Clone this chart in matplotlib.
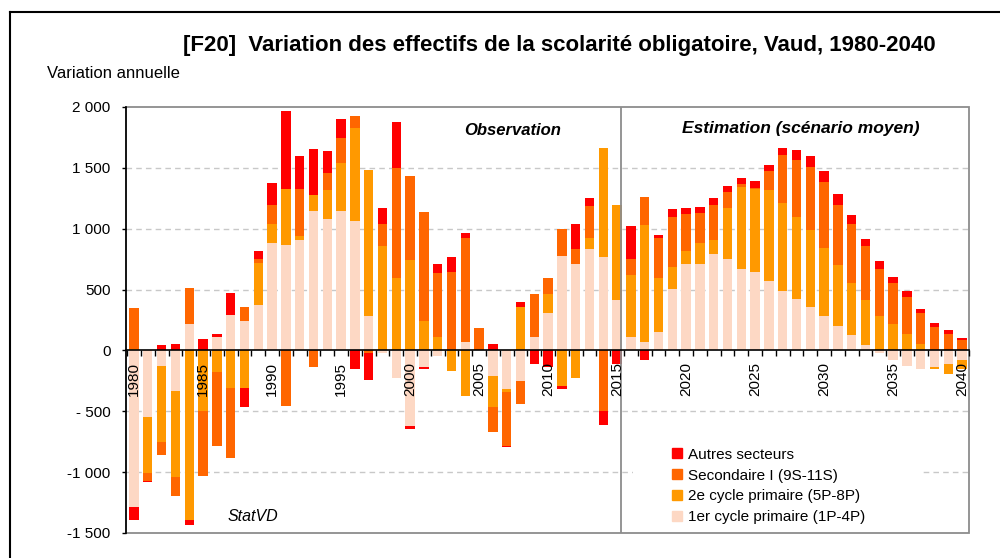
import numpy as np
import matplotlib
matplotlib.use("Agg")
import matplotlib.pyplot as plt
from matplotlib.lines import Line2D
from matplotlib.patches import Rectangle

plt.rcParams['font.family'] = ['Liberation Sans', 'DejaVu Sans']

years = list(range(1980, 2041))

cycle1 = [-1290, -544, -126, -335, 214, 0, 110, 294, 242, 371,
          885, 865, 906, 1146, 1080, 1146, 1063, 280, -22, -225,
          -624, -137, -47, 0, 71, 0, -206, -321, -255, 110,
          308, 777, 711, 830, 764, 412, 110, 71, 148, 503,
          711, 711, 791, 750, 670, 646, 569, 486, 423, 357,
          280, 200, 124, 44, -22, -82, -126, -151, -137, -115,
          -77]
cycle2 = [10, -459, -629, -709, -1395, -494, -179, -310, -310, 346,
          153, 462, 33, 129, 239, 395, 767, 1203, 857, 593,
          742, 239, 110, -165, -371, 0, -261, -17, 357, 0,
          153, -294, -225, 93, 903, 783, 508, 959, 445, 181,
          105, 171, 115, 420, 673, 678, 750, 723, 673, 632,
          563, 500, 434, 368, 280, 214, 137, 55, -14, -77,
          -74]
secondaire = [335, -68, -102, -154, 300, -536, -604, -575, 115, 33,
              157, -453, 388, -137, 140, 206, 98, -22, 181, 907,
              689, 901, 525, 648, 855, 187, -206, -445, -184, 351,
              132, 223, 121, 264, -494, 0, 132, 228, 330, 409,
              305, 247, 289, 132, 22, 10, 156, 395, 470, 519,
              539, 495, 480, 445, 393, 341, 303, 253, 192, 137,
              88]
autres = [-105, -11, 41, 55, -39, 96, 25, 181, -157, 66,
          184, 643, 274, 379, 181, 157, -151, -225, 132, 376,
          -24, -17, 76, 116, 35, 0, 55, -11, 40, -110,
          -137, -27, 206, 63, -116, -110, 275, -82, 22, 66,
          49, 52, 55, 50, 50, 59, 47, 63, 82, 91,
          90, 91, 77, 61, 63, 49, 46, 35, 36, 28,
          11]

series_names = ["1er cycle primaire (1P-4P)", "2e cycle primaire (5P-8P)",
                "Secondaire I (9S-11S)", "Autres secteurs"]
colors = ["#FDD8C4", "#FF9900", "#FF6600", "#FF0000"]

ytick_values = [-1500, -1000, -500, 0, 500, 1000, 1500, 2000]
ytick_labels = ["-1 500", "-1 000", "- 500", "0", "500", "1 000", "1 500", "2 000"]
xlabel_years = [1980, 1985, 1990, 1995, 2000, 2005, 2010, 2015, 2020, 2025, 2030, 2035, 2040]

title = "[F20]  Variation des effectifs de la scolarité obligatoire, Vaud, 1980-2040"

fig = plt.figure(figsize=(10, 5.58), dpi=100)
W, H = 1000, 558
ax = fig.add_axes([126 / W, 1 - 533 / H, (969 - 126) / W, (533 - 107) / H])

x = np.array(years)
pos_bottom = np.zeros(len(years))
neg_bottom = np.zeros(len(years))
for vals, col in zip([cycle1, cycle2, secondaire, autres], colors):
    v = np.array(vals, dtype=float)
    pos = np.where(v > 0, v, 0)
    neg = np.where(v < 0, v, 0)
    ax.bar(x, pos, bottom=pos_bottom, width=0.68, color=col, linewidth=0, zorder=3)
    ax.bar(x, neg, bottom=neg_bottom, width=0.68, color=col, linewidth=0, zorder=3)
    pos_bottom += pos
    neg_bottom += neg

ax.set_xlim(1979.42, 2040.5)
ax.set_ylim(-1500, 2000)

# gridlines
for g in [1500, 1000, 500, -500, -1000]:
    ax.axhline(g, color="#C8C8C8", lw=1, ls=(0, (4, 3)), zorder=1)

# white legend area hiding the gridline (as in the original)
ax.add_patch(Rectangle((633 / W, 1 - 530 / H), (923 - 633) / W, (530 - 440) / H,
                       transform=fig.transFigure, facecolor="white",
                       edgecolor="none", zorder=1.5))

# spines
for s in ["top", "right"]:
    ax.spines[s].set_visible(False)
ax.spines["bottom"].set_position(("data", 0))
ax.spines["bottom"].set_color("black")
ax.spines["bottom"].set_linewidth(1.2)
ax.spines["bottom"].set_zorder(4)
ax.spines["left"].set_color("black")
ax.spines["left"].set_linewidth(1.2)
ax.spines["left"].set_zorder(5)
ax.add_patch(Rectangle((0, 0), 1, 1, transform=ax.transAxes, fill=False,
                       edgecolor="#8C8C8C", lw=1.3, clip_on=False, zorder=2))

ax.set_yticks(ytick_values)
ax.set_yticklabels(ytick_labels, fontsize=11)
ax.tick_params(axis="y", direction="out", length=3, width=1, pad=8, colors="black")

ax.set_xticks(xlabel_years)
ax.set_xticklabels([str(y) for y in xlabel_years], rotation=90, fontsize=11)
ax.set_xticks(np.arange(1979.5, 2041, 1.0), minor=True)
ax.tick_params(axis="x", which="major", length=0, pad=8)
ax.tick_params(axis="x", which="minor", direction="out", length=4.5, width=1)
ax.xaxis.set_zorder(5)
ax.yaxis.set_zorder(5)

# separator line
ax.axvline(2015.3, color="#8C8C8C", lw=1.3, zorder=4)

ax.text(2007.4, 1807, "Observation", fontsize=12, fontweight="bold", style="italic",
        ha="center", va="center")
ax.text(2028.3, 1820, "Estimation (scénario moyen)", fontsize=12.5, fontweight="bold",
        style="italic", ha="center", va="center")
ax.text(1988.6, -1366, "StatVD", fontsize=11.5, style="italic", ha="center", va="center")

handles = [Line2D([], [], marker="s", linestyle="none", markersize=7,
                  markerfacecolor=c, markeredgecolor=c) for c in colors[::-1]]
leg = fig.legend(handles, series_names[::-1], loc="upper left",
                 bbox_to_anchor=(661 / W, 1 - 437 / H), bbox_transform=fig.transFigure,
                 fontsize=11, frameon=True, framealpha=1, facecolor="white",
                 edgecolor="none", handlelength=0.7, handletextpad=0.4,
                 labelspacing=0.45, borderpad=0.2, fancybox=False)
leg.set_zorder(6)

fig.text(559 / W, 1 - 46 / H, title, fontsize=16, fontweight="bold",
         ha="center", va="center")
fig.text(47 / W, 1 - 73 / H, "Variation annuelle", fontsize=12, ha="left", va="center")

# outer border
fig.add_artist(Line2D([9.5 / W, 1.0], [1 - 11.5 / H, 1 - 11.5 / H],
                      transform=fig.transFigure, color="black", lw=1.5))
fig.add_artist(Line2D([9.5 / W, 9.5 / W], [0, 1 - 11.5 / H],
                      transform=fig.transFigure, color="black", lw=1.5))

fig.savefig("out.png", dpi=100)
